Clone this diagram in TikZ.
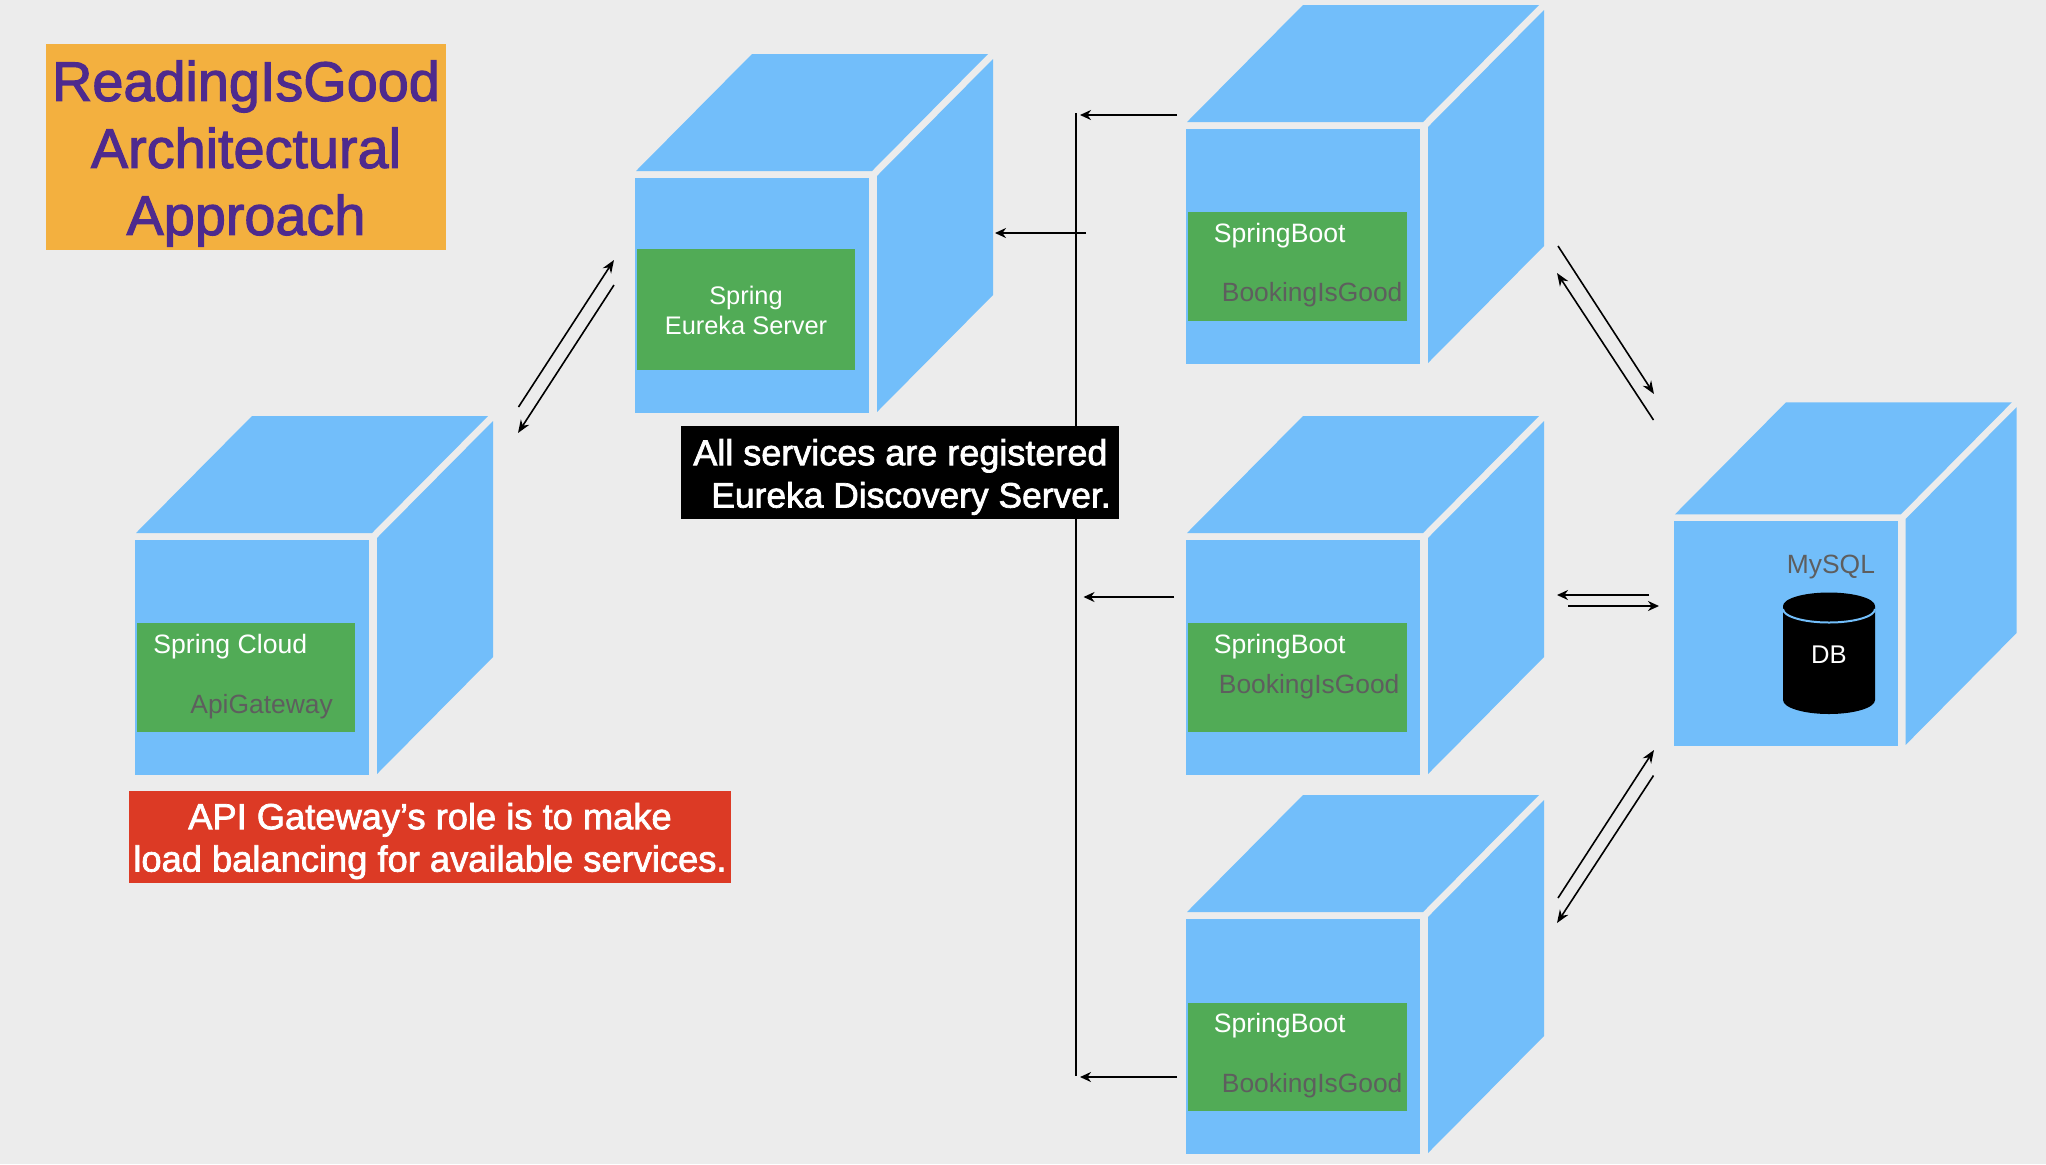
\documentclass[tikz,border=0pt]{standalone}
\usepackage{fontspec}
\setmainfont{Liberation Sans}
\newfontfamily\medfont[FakeBold=2.0]{Liberation Sans}
\usetikzlibrary{arrows.meta}
\definecolor{bgc}{HTML}{ECECEC}
\definecolor{cubeblue}{HTML}{72BEFA}
\definecolor{boxgreen}{HTML}{51AB56}
\definecolor{titleorange}{HTML}{F3B03F}
\definecolor{titlepurple}{HTML}{4E2A8E}
\definecolor{notered}{HTML}{DC3A25}
\definecolor{softgrey}{HTML}{5E5E5E}
\tikzset{
  x=0.5pt, y=-0.5pt,
  cube/.pic={
    \fill[cubeblue] (0,0) rectangle (234,235);
    \fill[cubeblue] (1,-7) -- (117,-124) -- (353,-124) -- (237,-7) -- cycle;
    \fill[cubeblue] (242,-2) -- (358,-119) -- (358,117) -- (242,234) -- cycle;
  },
  greenbox/.style={fill=boxgreen, inner sep=0pt, anchor=north west},
  white label/.style={inner sep=0pt, anchor=base west, text=white, font=\fontsize{13.3}{15.6}\selectfont},
  grey label/.style={inner sep=0pt, anchor=base west, text=softgrey, font=\fontsize{13.2}{15.6}\selectfont},
  thinarrow/.style={-{Stealth[length=6.5pt,width=5pt]}, line width=0.8pt, black},
  flatarrow/.style={-{Stealth[length=5.5pt,width=5pt]}, line width=1.1pt, black},
}
\begin{document}
\begin{tikzpicture}
\useasboundingbox (0,0) rectangle (2046,1164);
\fill[bgc] (0,0) rectangle (2046,1164);

% cubes
\pic at (135,540) {cube};
\pic at (635,178) {cube};
\pic at (1186,129) {cube};
\pic at (1186,540) {cube};
\pic at (1186,919) {cube};
\pic[scale=0.957] at (1674,521) {cube};

% bus
\coordinate (busTop) at (1076,113);
\coordinate (busBottom) at (1076,1076);
\draw[line width=1pt] (busTop) -- (busBottom);

% title and notes
\node[fill=titleorange, minimum width=200pt, minimum height=103pt, inner sep=0pt] (title) at (246,147) {};
\node[inner sep=0pt, align=center, text=titlepurple, font=\medfont\fontsize{27.9}{33.5}\selectfont] (titleText) at (246,153.5)
  {ReadingIsGood\\Architectural\\Approach};
\node[fill=black, minimum width=219pt, minimum height=46.5pt, inner sep=0pt] (eurekaNote) at (900,472.5) {};
\node[inner sep=0pt, align=left, text=white, font=\medfont\fontsize{18}{21.2}\selectfont] (eurekaText) at (902,477)
  {All services are registered\\\hspace*{9pt}{\fontsize{17.7}{21.2}\selectfont Eureka Discovery Server.}};
\node[fill=notered, minimum width=301pt, minimum height=46pt, inner sep=0pt] (gatewayNote) at (430,837) {};
\node[inner sep=0pt, align=center, text=white, font=\medfont\fontsize{18.15}{21.2}\selectfont] (gatewayText) at (430,841)
  {API Gateway’s role is to make\\load balancing for available services.};

% green boxes
\node[greenbox, minimum width=109pt, minimum height=54.5pt] (gwBox) at (137,623) {};
\node[greenbox, minimum width=109pt, minimum height=60.5pt] (euBox) at (637,249) {};
\node[greenbox, minimum width=109.5pt, minimum height=54.5pt] (b1Box) at (1188,212) {};
\node[greenbox, minimum width=109.5pt, minimum height=54.5pt] (b2Box) at (1188,623) {};
\node[greenbox, minimum width=109.5pt, minimum height=54pt] (b3Box) at (1188,1003) {};

% labels
\node[white label] (gwA) at (153,653) {Spring Cloud};
\node[grey label] (gwB) at (190,713) {ApiGateway};
\node[inner sep=0pt, align=center, text=white, font=\fontsize{12.7}{15}\selectfont] (euText) at (746,310)
  {Spring\\Eureka Server};
\node[white label] (b1A) at (1213.5,242) {SpringBoot};
\node[grey label] (b1B) at (1221.5,301.5) {BookingIsGood};
\node[white label] (b2A) at (1213.5,653) {SpringBoot};
\node[grey label] (b2B) at (1218.5,693.5) {BookingIsGood};
\node[white label] (b3A) at (1213.5,1032.5) {SpringBoot};
\node[grey label] (b3B) at (1221.5,1092) {BookingIsGood};
\node[grey label] (mysql) at (1786.5,573) {MySQL};

% database cylinder
\fill[black] (1783,606) arc[start angle=180, end angle=360, x radius=46, y radius=13.5]
  -- (1875,700) arc[start angle=0, end angle=180, x radius=46, y radius=14] -- cycle;
\draw[cubeblue, line width=1pt] (1783,609) arc[start angle=180, end angle=0, x radius=46, y radius=13.5];
\node[inner sep=0pt, text=white, font=\fontsize{12.8}{15}\selectfont] (dbText) at (1829,655) {DB};

% arrow end points
\coordinate (a1s) at (518.5,407); \coordinate (a1e) at (614,260);
\coordinate (a2s) at (614,285);   \coordinate (a2e) at (518,433);
\coordinate (a3s) at (1086,233);  \coordinate (a3e) at (995,233);
\coordinate (a4s) at (1177,115);  \coordinate (a4e) at (1080,115);
\coordinate (a5s) at (1174,597);  \coordinate (a5e) at (1083.5,597);
\coordinate (a6s) at (1177,1077); \coordinate (a6e) at (1080,1077);
\coordinate (a7s) at (1558,246);  \coordinate (a7e) at (1654,394);
\coordinate (a8s) at (1653.5,420);\coordinate (a8e) at (1557,273);
\coordinate (a9s) at (1649,595);  \coordinate (a9e) at (1557,595);
\coordinate (a10s) at (1568,606); \coordinate (a10e) at (1659,606);
\coordinate (a11s) at (1558,898); \coordinate (a11e) at (1654,750);
\coordinate (a12s) at (1653.5,775.5); \coordinate (a12e) at (1557,923);

\draw[thinarrow] (a1s) -- (a1e);
\draw[thinarrow] (a2s) -- (a2e);
\draw[flatarrow] (a3s) -- (a3e);
\draw[flatarrow] (a4s) -- (a4e);
\draw[flatarrow] (a5s) -- (a5e);
\draw[flatarrow] (a6s) -- (a6e);
\draw[thinarrow] (a7s) -- (a7e);
\draw[thinarrow] (a8s) -- (a8e);
\draw[flatarrow] (a9s) -- (a9e);
\draw[flatarrow] (a10s) -- (a10e);
\draw[thinarrow] (a11s) -- (a11e);
\draw[thinarrow] (a12s) -- (a12e);
\end{tikzpicture}
\end{document}
